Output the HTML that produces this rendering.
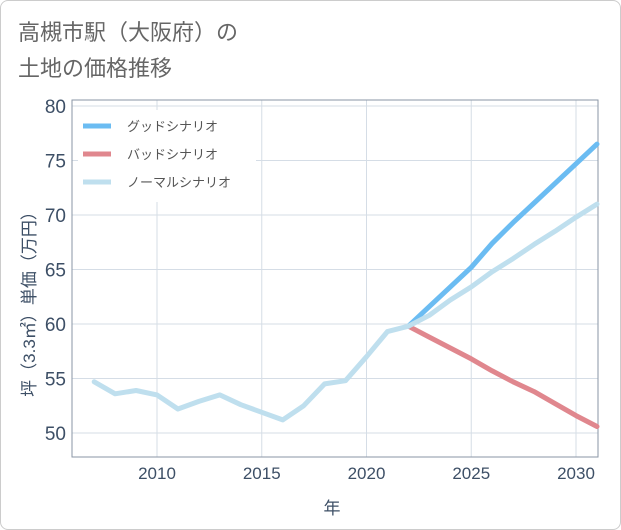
<!DOCTYPE html>
<html><head><meta charset="utf-8">
<style>
body{margin:0;background:#fff;}
#wrap{width:619px;height:528px;border:1px solid #ccc;border-radius:8px;position:relative;overflow:hidden;font-family:"Liberation Sans","Noto Sans CJK JP",sans-serif;}
</style></head>
<body>
<div id="wrap">
<svg id="chart" width="621" height="530" style="position:absolute;left:-1px;top:-1px;font-family:'Liberation Sans','Noto Sans CJK JP',sans-serif;"></svg>
</div>
<script>
const years=[2007,2008,2009,2010,2011,2012,2013,2014,2015,2016,2017,2018,2019,2020,2021,2022,2023,2024,2025,2026,2027,2028,2029,2030,2031];
const normalVals=[54.7,53.6,53.9,53.5,52.2,52.9,53.5,52.6,51.9,51.2,52.5,54.5,54.8,57.0,59.3,59.8,60.8,62.2,63.4,64.8,66.0,67.3,68.5,69.8,71.0];
const projYears=[2022,2023,2024,2025,2026,2027,2028,2029,2030,2031];
const goodVals=[59.8,61.6,63.4,65.2,67.4,69.3,71.1,72.9,74.7,76.5];
const badVals=[59.8,58.8,57.8,56.8,55.7,54.7,53.8,52.7,51.6,50.6];
const yTicks=[50,55,60,65,70,75,80];
const xTicks=[2010,2015,2020,2025,2030];
const NS="http://www.w3.org/2000/svg";
const svg=document.getElementById('chart');
const L=72,R=598,T=100,B=457;
const xs=v=>157+(v-2010)*20.95;
const ys=v=>433-(v-50)*10.9;
function mk(tag,attrs,parent){const e=document.createElementNS(NS,tag);for(const k in attrs)e.setAttribute(k,attrs[k]);(parent||svg).appendChild(e);return e;}
const t1=mk('text',{x:18,y:40,'font-size':22,fill:'#666'});t1.textContent='高槻市駅（大阪府）の';

const t2=mk('text',{x:18,y:76,'font-size':22,fill:'#666'});t2.textContent='土地の価格推移';

yTicks.forEach(v=>{const l=mk('line',{x1:L,x2:R,y1:ys(v),y2:ys(v),stroke:'#d5dde6','stroke-width':1});

const tx=mk('text',{x:L-6,y:ys(v)+7,'text-anchor':'end','font-size':19,fill:'#3d4f66'});tx.textContent=v;
});
xTicks.forEach(v=>{const l=mk('line',{x1:xs(v),x2:xs(v),y1:T,y2:B,stroke:'#d5dde6','stroke-width':1});

const tx=mk('text',{x:xs(v),y:B+22,'text-anchor':'middle','font-size':17,fill:'#3d4f66'});tx.textContent=v;
});
const fr=mk('rect',{x:L,y:T,width:R-L,height:B-T,fill:'none',stroke:'#8a96a6','stroke-width':1});

const xt=mk('text',{x:332,y:514,'text-anchor':'middle','font-size':17,fill:'#3d4f66'});xt.textContent='年';

const yt=mk('text',{x:0,y:0,'text-anchor':'middle','font-size':17,fill:'#3d4f66',transform:'translate(35,300) rotate(-90)'});yt.textContent='坪（3.3㎡）単価（万円）';

function line(xv,yv,color,name){const d=xv.map((x,i)=>(i?'L':'M')+xs(x).toFixed(1)+','+ys(yv[i]).toFixed(1)).join('');
const p=mk('path',{d:d,fill:'none',stroke:color,'stroke-width':5,'stroke-linejoin':'round','stroke-linecap':'round'});
}
line(projYears,badVals,'#e0878e','bad-scenario-line');
line(projYears,goodVals,'#6bbcf2','good-scenario-line');
line(years,normalVals,'#bfdfee','normal-scenario-line');
const lg=mk('g',{});
mk('rect',{x:78,y:110,width:178,height:92,fill:'#fff'},lg);
[['グッドシナリオ','#6bbcf2'],['バッドシナリオ','#e0878e'],['ノーマルシナリオ','#bfdfee']].forEach((e,i)=>{
const g=mk('g',{},lg);
mk('line',{x1:83,x2:111,y1:126+i*28,y2:126+i*28,stroke:e[1],'stroke-width':5},g);
const tx=mk('text',{x:127,y:131+i*28,'font-size':13,fill:'#555'},g);tx.textContent=e[0];});
</script>
</body></html>
